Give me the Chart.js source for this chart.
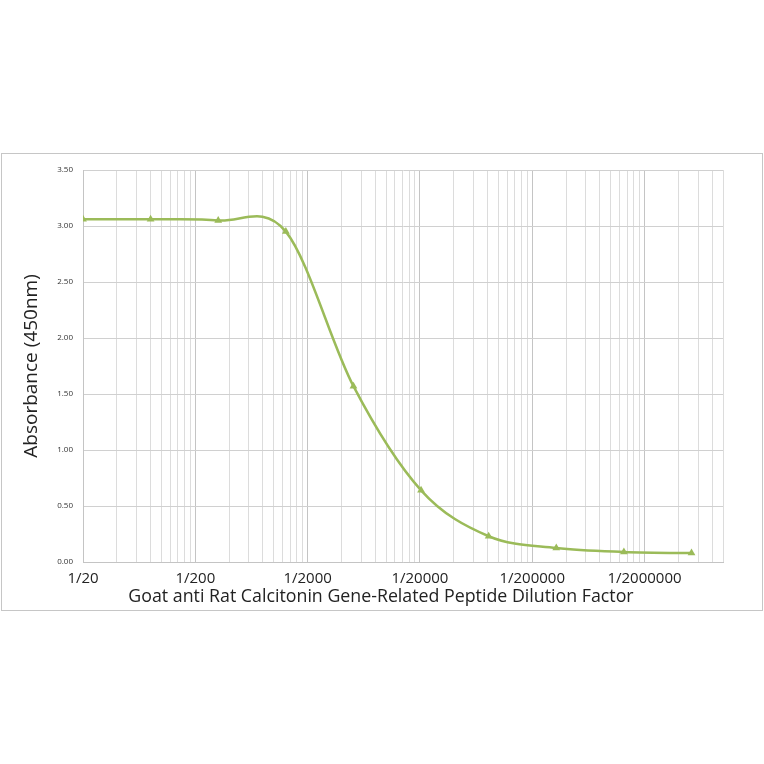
<!DOCTYPE html>
<html>
<head>
<meta charset="utf-8">
<script src="https://cdn.jsdelivr.net/npm/chart.js@4/dist/chart.umd.min.js"></script>
<style>
  html, body { margin: 0; padding: 0; background: #fff; }
  #wrap { position: relative; width: 764px; height: 764px; }
  #frame { position: absolute; left: 1px; top: 153px; width: 760px; height: 456px; border: 1px solid #c6c6c6; }
  #chartBox { position: absolute; left: 0; top: 0; width: 764px; height: 764px; }
  #xTitle { position: absolute; left: 0; width: 762px; top: 584px; text-align: center;
            font-family: 'Open Sans', sans-serif; font-size: 17.8px; color: #222; line-height: 22px; }
</style>
</head>
<body>
<div id="wrap">
  <div id="frame"></div>
  <div id="chartBox"><canvas id="curve"></canvas></div>
  <div id="xTitle">Goat anti Rat Calcitonin Gene-Related Peptide Dilution Factor</div>
</div>
<script>
// dilution factor (1/x) and measured absorbance
const dilutions = [20, 80, 320, 1280, 5120, 20480, 81920, 327680, 1310720, 5242880]
const absorbance = [3.06, 3.06, 3.05, 2.95, 1.57, 0.64, 0.23, 0.125, 0.09, 0.08]

const xTickValues = [20, 200, 2000, 20000, 200000, 2000000]
const xTickLabels = ['1/20', '1/200', '1/2000', '1/20000', '1/200000', '1/2000000']
const xMin = 20
const xMax = 10000000
const yMin = 0
const yMax = 3.5
const yStep = 0.5

const green = '#9bbb59'
const points = dilutions.map((d, i) => ({x: d, y: absorbance[i]}))

// major + minor grid positions (k * 20 * 10^n)
function buildLogTicks() {
  const ticks = []
  xTickValues.forEach(base => {
    for (let k = 1; k <= 9; k++) {
      const v = base * k
      if (v <= xMax) ticks.push({value: v, major: k == 1})
    }
  })
  return ticks
}

// spreadsheet style smoothing: uniform catmull-rom control points
const smoothLine = {
  id: 'smoothLine',
  beforeDatasetDraw(chart, args) {
    const meta = args.meta
    meta.dataset.updateControlPoints(chart.chartArea, 'x')
    const pts = meta.data
    for (let i = 0; i < pts.length; i++) {
      const p = pts[i]
      const prev = pts[i - 1] || p
      const next = pts[i + 1] || p
      p.cp1x = p.x - (next.x - prev.x) / 6
      p.cp1y = p.y - (next.y - prev.y) / 6
      p.cp2x = p.x + (next.x - prev.x) / 6
      p.cp2y = p.y + (next.y - prev.y) / 6
    }
  }
}

const ctx = document.getElementById('curve').getContext('2d')
new Chart(ctx, {
  type: 'line',
  data: {
    datasets: [{
      label: 'Absorbance',
      data: points,
      borderColor: green,
      backgroundColor: green,
      borderWidth: 2.5,
      tension: 0.4,
      pointStyle: 'triangle',
      pointRadius: 4.5,
      pointBorderWidth: 0,
      fill: false
    }]
  },
  options: {
    responsive: true,
    maintainAspectRatio: false,
    animation: false,
    layout: { padding: { top: 170, right: 41, bottom: 152, left: 0 } },
    plugins: { legend: { display: false }, tooltip: { enabled: false } },
    scales: {
      x: {
        type: 'logarithmic',
        min: xMin,
        max: xMax,
        afterBuildTicks: scale => { scale.ticks = buildLogTicks() },
        afterFit: scale => { scale.height = 50 },
        grid: {
          drawTicks: false,
          color: c => (c.tick && c.tick.major) ? '#c4c4c4' : '#dcdcdc',
          lineWidth: 1
        },
        border: { color: '#c4c4c4' },
        ticks: {
          autoSkip: false,
          maxRotation: 0,
          padding: 8,
          color: '#222',
          font: { family: 'Open Sans', size: 15 },
          callback: function(value) {
            const idx = xTickValues.indexOf(value)
            return idx >= 0 ? xTickLabels[idx] : ''
          }
        }
      },
      y: {
        min: yMin,
        max: yMax,
        afterFit: scale => { scale.width = 83 },
        grid: { drawTicks: false, color: '#d0d0d0' },
        border: { color: '#c4c4c4' },
        ticks: {
          stepSize: yStep,
          padding: 10,
          color: '#333',
          font: { family: 'Open Sans', size: 8 },
          callback: v => v.toFixed(2)
        },
        title: {
          display: true,
          text: 'Absorbance (450nm)',
          color: '#222',
          font: { family: 'Open Sans', size: 19 },
          padding: { top: 20, bottom: 0 }
        }
      }
    }
  },
  plugins: [smoothLine]
})
</script>
</body>
</html>
